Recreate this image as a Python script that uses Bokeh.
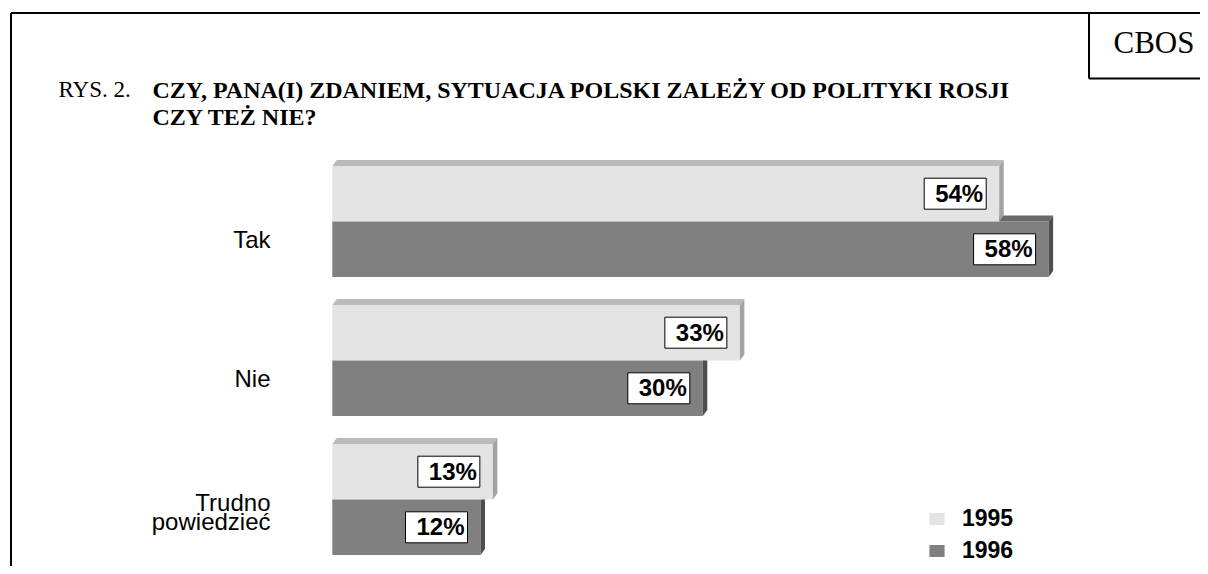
from bokeh.plotting import figure
from bokeh.models import Range1d, Legend, LegendItem
from bokeh.core.properties import value
from bokeh.embed import file_html
from bokeh.resources import INLINE

# ---------------- data ----------------
categories = ["Tak", "Nie", "Trudno\npowiedzieć"]
series = ["1995", "1996"]
v1995 = [54, 33, 13]
v1996 = [58, 30, 12]
title_prefix = "RYS. 2."
title_lines = ["CZY, PANA(I) ZDANIEM, SYTUACJA POLSKI ZALEŻY OD POLITYKI ROSJI",
               "CZY TEŻ NIE?"]
source_label = "CBOS"

# ---------------- layout ----------------
W, H = 1200, 566
X0, SX = 331.8, 12.35     # px of 0 %, px per %
Y0, SY = 221.0, 139.0     # px of first category centre, px per category
DX, DY = 4.5 / SX, 6.0 / SY  # 3-D depth
TSHIFT = 0.37             # baseline correction (em) for text glyphs


def px_x(cx):
    return (cx - X0) / SX


def px_y(cy):
    return (cy - Y0) / SY


def base_y(cy, fs):
    # data y for a text baseline at pixel row cy
    return px_y(cy - TSHIFT * fs)


p = figure(width=W, height=H, output_backend="svg", toolbar_location=None,
           x_range=Range1d(px_x(0), px_x(W)), y_range=Range1d(px_y(H), px_y(0)),
           x_axis_location=None, y_axis_location=None, min_border=0)
p.grid.visible = False
p.outline_line_color = None
p.background_fill_color = "white"
p.border_fill_color = "white"

SANS = value("Liberation Sans")
SERIF = value("Liberation Serif")

styles = {
    "1995": dict(front="#e3e3e3", top="#bababa", side="#a3a3a3", off=-0.2),
    "1996": dict(front="#808080", top="#6a6a6a", side="#4e4e4e", off=0.2),
}
renderers = {}
for name, vals in (("1996", v1996), ("1995", v1995)):
    st = styles[name]
    ys = [i + st["off"] for i in range(len(vals))]
    r = p.hbar(y=ys, left=0, right=vals, height=0.4, fill_color=st["front"],
               line_color=None)
    renderers[name] = r
    tops = [y - 0.2 for y in ys]
    bots = [y + 0.2 for y in ys]
    p.patches(xs=[[0, DX, v + DX, v] for v in vals],
              ys=[[t, t - DY, t - DY, t] for t in tops],
              fill_color=st["top"], line_color=None)
    p.patches(xs=[[v, v + DX, v + DX, v] for v in vals],
              ys=[[t, t - DY, b - DY, b] for t, b in zip(tops, bots)],
              fill_color=st["side"], line_color=None)

# value boxes
VFS = 24
for name, vals in (("1996", v1996), ("1995", v1995)):
    st = styles[name]
    ys = [i + st["off"] for i in range(len(vals))]
    p.rect(x=[v - (13 + 31) / SX for v in vals], y=ys, width=62, height=31,
           width_units="screen", height_units="screen",
           fill_color="white", line_color="black", line_width=1)
    p.text(x=[v - 16 / SX for v in vals],
           y=[y + (8.5 - TSHIFT * VFS) / SY for y in ys],
           text=[f"{v}%" for v in vals], text_align="right",
           text_baseline="alphabetic", text_font=SANS, text_font_style="bold",
           text_font_size=f"{VFS}px", text_color="black")

# category labels
CFS = 24
LGAP = 19
lx, ly, lt = [], [], []
for i, lab in enumerate(categories):
    lines = lab.split("\n")
    first = i + (27 - (len(lines) - 1) * 15.5 - TSHIFT * CFS) / SY
    for k, line in enumerate(lines):
        lx.append(px_x(270))
        ly.append(first + k * LGAP / SY)
        lt.append(line)
p.text(x=lx, y=ly, text=lt, text_align="right", text_baseline="alphabetic",
       text_font=SANS, text_font_size=f"{CFS}px", text_color="black")

# title
p.text(x=[px_x(58)], y=[base_y(98, 23)], text=[title_prefix], text_font=SERIF,
       text_font_size="23px", text_baseline="alphabetic", text_color="black")
p.text(x=[px_x(152), px_x(152)], y=[base_y(98, 24), base_y(125, 24)],
       text=title_lines, text_font=SERIF, text_font_style="bold",
       text_font_size="24px", text_baseline="alphabetic", text_color="black")

# frame and CBOS box
p.segment(x0=[px_x(10.5), px_x(10.5), px_x(1088.5), px_x(1088.5)],
          y0=[px_y(12.5), px_y(12.5), px_y(12.5), px_y(78)],
          x1=[px_x(10.5), px_x(1260), px_x(1088.5), px_x(1260)],
          y1=[px_y(620), px_y(12.5), px_y(78), px_y(78)],
          line_color="black", line_width=2)
p.text(x=[px_x(1113)], y=[base_y(53, 31)], text=[source_label], text_font=SERIF,
       text_font_size="31px", text_baseline="alphabetic", text_color="black")

legend = Legend(items=[LegendItem(label=series[0], renderers=[renderers["1995"]]),
                       LegendItem(label=series[1], renderers=[renderers["1996"]])],
                location=(927, 2), glyph_width=19, glyph_height=15,
                label_standoff=16, spacing=5, padding=0, margin=0,
                border_line_color=None, background_fill_alpha=0,
                label_text_font="Liberation Sans", label_text_font_style="bold",
                label_text_font_size="23px", label_text_color="black")
p.add_layout(legend)

open("out.html", "w").write(file_html(p, INLINE))
